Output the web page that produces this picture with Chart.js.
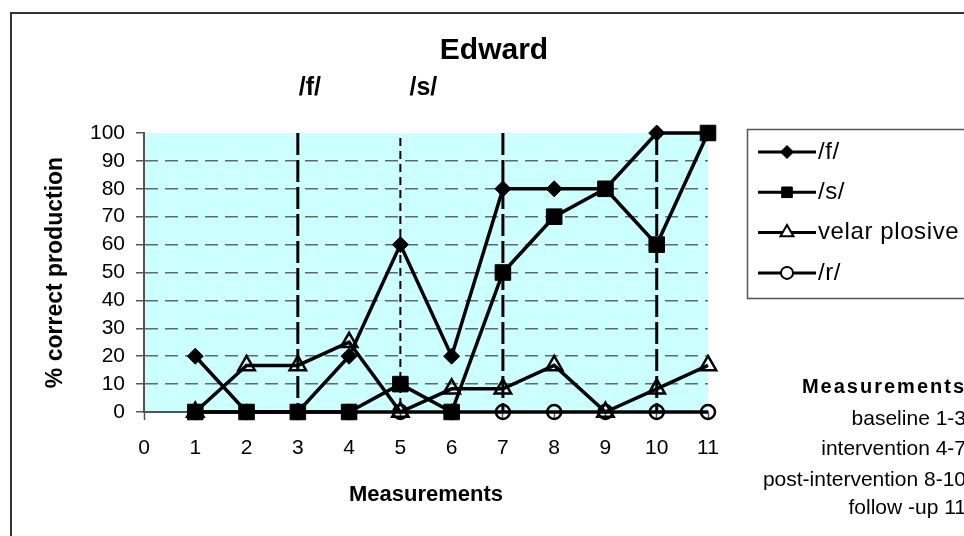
<!DOCTYPE html>
<html>
<head>
<meta charset="utf-8">
<script src="https://cdn.jsdelivr.net/npm/chart.js@4.4.0/dist/chart.umd.min.js"></script>
<style>
  html, body { margin: 0; padding: 0; background: #fff; }
  canvas { display: block; }
</style>
</head>
<body>
<canvas id="chart" width="964" height="536"></canvas>
<script>
const measurements = [1, 2, 3, 4, 5, 6, 7, 8, 9, 10, 11];
const fValues = [20, 0, 0, 20, 60, 20, 80, 80, 80, 100, 100];
const sValues = [0, 0, 0, 0, 10, 0, 50, 70, 80, 60, 100];
const velarValues = [0, 16.7, 16.7, 25, 0, 8.3, 8.3, 16.7, 0, 8.3, 16.7];
const rValues = [0, 0, 0, 0, 0, 0, 0, 0, 0, 0, 0];
const seriesNames = ["/f/", "/s/", "velar plosive", "/r/"];
const phaseLines = [3, 5, 7, 10];
const phaseLabels = ["/f/", "/s/"];
const noteTitle = "Measurements";
const notes = ["baseline 1-3", "intervention 4-7", "post-intervention 8-10", "follow -up 11"];

const FONT = '"Liberation Sans", Arial, sans-serif';
Chart.defaults.font.family = FONT;
Chart.defaults.color = "#000";

function pts(vals) {
  return measurements.map((m, i) => ({ x: m, y: vals[i] }));
}

function series(label, vals, style, radius, fill) {
  return {
    label: label,
    data: pts(vals),
    borderColor: "#000",
    borderWidth: 3.5,
    pointStyle: style,
    pointRadius: radius,
    pointHoverRadius: radius,
    pointBorderColor: "#000",
    pointBorderWidth: fill ? 1 : 2.5,
    pointBackgroundColor: fill ? "#000" : "rgba(0,0,0,0)",
    tension: 0,
    clip: false
  };
}

const datasets = [
  series(seriesNames[0], fValues, "rectRot", 8, true),
  series(seriesNames[1], sValues, "rect", 11, true),
  series(seriesNames[2], velarValues, "triangle", 9.5, false),
  series(seriesNames[3], rValues, "circle", 7, false)
];

const decor = {
  id: "decor",
  beforeDraw(chart) {
    const { ctx, chartArea: a } = chart;
    ctx.save();
    ctx.fillStyle = "#ccffff";
    ctx.fillRect(a.left, a.top, a.right - a.left, a.bottom - a.top);
    ctx.strokeStyle = "#333";
    ctx.lineWidth = 2;
    ctx.strokeRect(11, 13, 1000, 600);
    ctx.restore();
  },
  beforeDatasetsDraw(chart) {
    const { ctx, chartArea: a } = chart;
    const x = chart.scales.x;
    ctx.save();
    ctx.strokeStyle = "#000";
    phaseLines.forEach(v => {
      const px = x.getPixelForValue(v);
      const shortDash = v === 5;
      ctx.lineWidth = shortDash ? 2 : 3;
      ctx.setLineDash(shortDash ? [8, 5] : [22, 5]);
      ctx.beginPath();
      ctx.moveTo(px, a.top + (shortDash ? 5 : 0));
      ctx.lineTo(px, a.bottom);
      ctx.stroke();
    });
    ctx.restore();
  },
  afterDraw(chart) {
    const { ctx } = chart;
    const x = chart.scales.x;
    ctx.save();
    ctx.fillStyle = "#000";
    ctx.textBaseline = "middle";

    // title and phase labels
    ctx.textAlign = "center";
    ctx.font = "bold 30px " + FONT;
    ctx.fillText("Edward", 494, 51);
    ctx.font = "bold 25px " + FONT;
    ctx.fillText(phaseLabels[0], x.getPixelForValue(phaseLines[0]) + 12, 88);
    ctx.fillText(phaseLabels[1], x.getPixelForValue(phaseLines[1]) + 23, 88);

    // legend
    ctx.strokeStyle = "#555";
    ctx.lineWidth = 1.5;
    ctx.strokeRect(747.5, 129.5, 300, 169);
    const legSizes = [6.5, 7.5, 7.5, 6];
    chart.data.datasets.forEach((ds, i) => {
      const y = 152 + i * 40.3;
      ctx.strokeStyle = "#000";
      ctx.lineWidth = 3;
      ctx.setLineDash([]);
      ctx.beginPath();
      ctx.moveTo(758, y);
      ctx.lineTo(816, y);
      ctx.stroke();
      ctx.fillStyle = ds.pointBackgroundColor === "#000" ? "#000" : "#fff";
      ctx.lineWidth = ds.pointBorderWidth > 1 ? 2 : 1;
      Chart.helpers.drawPoint(ctx, {
        pointStyle: ds.pointStyle,
        radius: legSizes[i],
        rotation: 0,
        borderWidth: ctx.lineWidth
      }, 787, y);
      ctx.fillStyle = "#000";
      ctx.textAlign = "left";
      ctx.font = "24px " + FONT;
      ctx.letterSpacing = "0.6px";
      ctx.fillText(ds.label, 818, y);
      ctx.letterSpacing = "0px";
    });

    // measurement notes
    ctx.textAlign = "right";
    ctx.font = "bold 20px " + FONT;
    ctx.letterSpacing = "2px";
    ctx.fillText(noteTitle, 966, 387);
    ctx.letterSpacing = "0px";
    ctx.font = "21px " + FONT;
    const noteY = [419, 449, 480, 508];
    notes.forEach((t, i) => ctx.fillText(t, 966, noteY[i]));
    ctx.restore();
  }
};

new Chart(document.getElementById("chart"), {
  type: "line",
  data: { datasets: datasets },
  options: {
    responsive: false,
    animation: false,
    layout: { padding: { left: 12, top: 133, right: 256, bottom: 24 } },
    plugins: {
      legend: { display: false },
      title: { display: false },
      tooltip: { enabled: false }
    },
    scales: {
      x: {
        type: "linear",
        min: 0,
        max: 11,
        ticks: { stepSize: 1, autoSkip: false, font: { size: 21 }, padding: 16, maxRotation: 0 },
        grid: { drawOnChartArea: false, tickLength: 8, tickColor: "#555", tickWidth: 1.5 },
        border: { display: true, color: "#555", width: 2 },
        title: {
          display: true,
          text: "Measurements",
          font: { size: 22, weight: "bold" },
          padding: { top: 4, bottom: 4 }
        },
        afterFit(scale) { scale.height = 100; }
      },
      y: {
        min: 0,
        max: 100,
        ticks: { stepSize: 10, autoSkip: false, font: { size: 21 }, padding: 11 },
        grid: {
          color: c => (c.tick && (c.tick.value === 0 || c.tick.value === 100)) ? "rgba(0,0,0,0)" : "#5f6b6b",
          lineWidth: 1.5,
          tickLength: 8,
          tickColor: "#555",
          tickWidth: 1.5,
          tickBorderDash: []
        },
        border: { display: true, color: "#555", width: 2, dash: [13, 7] },
        title: {
          display: true,
          text: "% correct production",
          font: { size: 23, weight: "bold" },
          padding: { top: 30, bottom: 0 }
        },
        afterFit(scale) { scale.width = 132; }
      }
    }
  },
  plugins: [decor]
});
</script>
</body>
</html>
